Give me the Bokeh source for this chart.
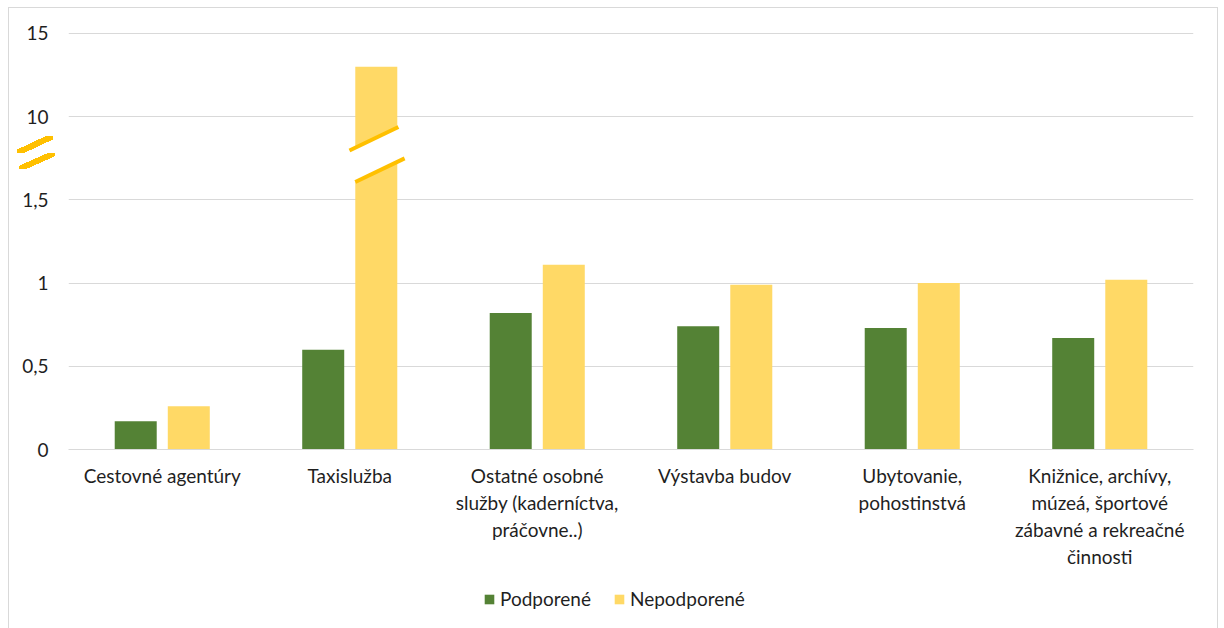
from bokeh.plotting import figure
from bokeh.layouts import column
from bokeh.models import (FactorRange, Range1d, Legend, LegendItem, FixedTicker,
                          ColumnDataSource)
from bokeh.transform import dodge
from bokeh.embed import file_html
from bokeh.resources import INLINE

# ---------------- data ----------------
categories = [
    "Cestovné agentúry",
    "Taxislužba",
    "Ostatné osobné\nslužby (kaderníctva,\npráčovne..)",
    "Výstavba budov",
    "Ubytovanie,\npohostinstvá",
    "Knižnice, archívy,\nmúzeá, športové\nzábavné a rekreačné\nčinnosti",
]
podporene = [0.17, 0.60, 0.82, 0.74, 0.73, 0.67]
nepodporene = [0.26, 13.0, 1.11, 0.99, 1.00, 1.02]
tick_values = [0, 0.5, 1, 1.5, 10, 15]
tick_labels = ["0", "0,5", "1", "1,5", "10", "15"]
series_names = ["Podporené", "Nepodporené"]

# broken axis: 0..1.5 -> 0..3 ; 10..15 -> 4..5
LOW_MAX, HIGH_MIN = 1.5, 10.0


def tr(v):
    if v <= LOW_MAX:
        return v / 0.5
    return 4 + (v - HIGH_MIN) / 5.0


GREEN = "#548235"
YELLOW = "#FFD966"
GOLD = "#FFC000"
GRID = "#D9D9D9"
TXT = "#1F1F1F"
FONT = "Lato"
FS = "19px"

src = ColumnDataSource(dict(
    cat=categories,
    pod=[tr(v) for v in podporene],
    nep=[tr(v) for v in nepodporene],
))

p = figure(width=1224, height=570,
           x_range=FactorRange(*categories, range_padding=0, factor_padding=0),
           y_range=Range1d(0, 5.096), output_backend="svg", toolbar_location=None,
           min_border_left=68, min_border_right=31, min_border_top=25, min_border_bottom=120)
p.outline_line_color = None
p.border_fill_color = None
p.background_fill_color = "white"

# chart-area border and y-axis break marks drawn as CSS background of the plot element
line = "linear-gradient(%s,%s)" % (GRID, GRID)
band = ("linear-gradient(to bottom right, rgba(255,255,255,0) 40%%, %s 40%%, %s 60%%, "
        "rgba(255,255,255,0) 60%%)" % (GOLD, GOLD))
layers = [
    (band, "36px 17px", "17px 136px"),
    (band, "36px 16px", "19px 153px"),
    (line, "1px 800px", "8px 7px"),
    (line, "1px 800px", "1217px 7px"),
    (line, "1210px 1px", "8px 7px"),
]
p.styles = {
    "background-color": "white",
    "background-image": ", ".join(l[0] for l in layers),
    "background-size": ", ".join(l[1] for l in layers),
    "background-position": ", ".join(l[2] for l in layers),
    "background-repeat": "no-repeat",
}

OFF = 0.1415
BW = 0.224
r1 = p.vbar(x=dodge("cat", -OFF, range=p.x_range), top="pod", width=BW, source=src,
            fill_color=GREEN, line_color=None)
r2 = p.vbar(x=dodge("cat", OFF, range=p.x_range), top="nep", width=BW, source=src,
            fill_color=YELLOW, line_color=None)

# bar break on bars exceeding the lower segment
for i, v in enumerate(nepodporene):
    if v > LOW_MAX:
        xc = i + 0.5 + OFF
        s = 1.08
        lo_t0, hi_t0 = 3.357, 3.735
        lo = lambda x: lo_t0 + s * (x - xc - 0.02)
        hi = lambda x: hi_t0 + s * (x - xc + 0.0125)
        xa, xb = xc - 0.125, xc + 0.125
        p.patch([xa, xb, xb, xa], [lo(xa), lo(xb), hi(xb), hi(xa)],
                fill_color="white", line_color=None)
        x1, x2 = xc - 0.112, xc + 0.151
        p.line([x1, x2], [lo(x1), lo(x2)], line_color=GOLD, line_width=4)
        x1, x2 = xc - 0.143, xc + 0.118
        p.line([x1, x2], [hi(x1), hi(x2)], line_color=GOLD, line_width=4)

# axes
yax = p.yaxis[0]
yax.ticker = FixedTicker(ticks=[tr(v) for v in tick_values])
yax.major_label_overrides = {tr(v): lab for v, lab in zip(tick_values, tick_labels)}
yax.axis_line_color = None
yax.major_tick_line_color = None
yax.minor_tick_line_color = None
yax.major_label_standoff = 14
yax.major_label_text_font = FONT
yax.major_label_text_font_size = FS
yax.major_label_text_color = TXT

xax = p.xaxis[0]
xax.axis_line_color = GRID
xax.major_tick_line_color = None
xax.minor_tick_line_color = None
xax.major_label_standoff = 8
xax.major_label_text_font = FONT
xax.major_label_text_font_size = FS
xax.major_label_text_color = TXT
xax.major_label_text_line_height = 1.18

p.xgrid.grid_line_color = None
p.ygrid.grid_line_color = GRID
p.ygrid.ticker = FixedTicker(ticks=[tr(v) for v in tick_values[1:]])

# ---------------- legend strip ----------------
lg = figure(width=1224, height=58, x_range=Range1d(0, 1), y_range=Range1d(0, 1),
            output_backend="svg", toolbar_location=None, x_axis_type=None, y_axis_type=None,
            min_border=0)
lg.outline_line_color = None
lg.grid.grid_line_color = None
lg.border_fill_color = None
lg.background_fill_color = None
lg.styles = {
    "background-color": "white",
    "background-image": "%s, %s" % (line, line),
    "background-size": "1px 100px, 1px 100px",
    "background-position": "8px 0px, 1217px 0px",
    "background-repeat": "no-repeat",
}
# legend proxies (kept outside the visible range; only their swatches are shown)
proxy = ColumnDataSource(dict(x=[-5.0], top=[-5.0]))
d1 = lg.vbar(x="x", top="top", width=0.1, source=proxy, fill_color=GREEN, line_color=None)
d2 = lg.vbar(x="x", top="top", width=0.1, source=proxy, fill_color=YELLOW, line_color=None)
legend = Legend(items=[LegendItem(label=series_names[0], renderers=[d1]),
                       LegendItem(label=series_names[1], renderers=[d2])],
                orientation="horizontal", location=(415, 18),
                label_text_font=FONT, label_text_font_size=FS, label_text_color=TXT,
                glyph_width=12, glyph_height=12, label_standoff=5, spacing=22,
                border_line_color=None, background_fill_alpha=0, margin=0, padding=0)
lg.add_layout(legend, "center")

layout = column(p, lg, spacing=0)
open("out.html", "w").write(file_html(layout, INLINE))
